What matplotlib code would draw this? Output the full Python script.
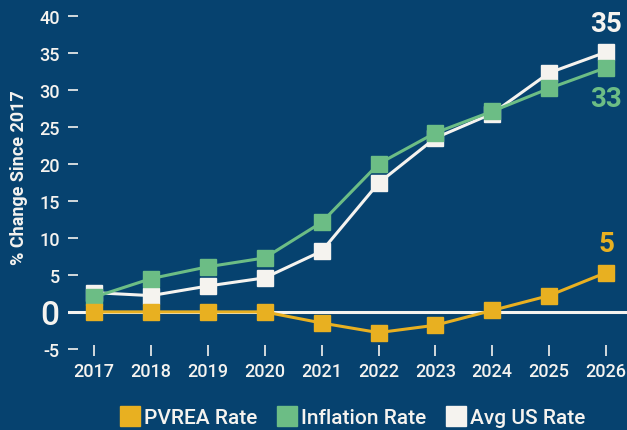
import numpy as np
import matplotlib.pyplot as plt
from matplotlib.lines import Line2D

plt.rcParams['font.family'] = ['Roboto', 'DejaVu Sans']

# dane
lata = [2017, 2018, 2019, 2020, 2021, 2022, 2023, 2024, 2025, 2026]
pvrea = [0.0, 0.0, 0.0, 0.0, -1.5, -2.8, -1.8, 0.2, 2.2, 5.3]
inflacja = [2.0, 4.5, 6.1, 7.3, 12.1, 20.0, 24.2, 27.1, 30.2, 33.0]
srednia_us = [2.6, 2.2, 3.5, 4.6, 8.2, 17.4, 23.5, 26.8, 32.3, 35.1]
y_ticks = [-5, 5, 10, 15, 20, 25, 30, 35, 40]

TLO = '#06426f'
ZOLTY = '#e8b021'
ZIELONY = '#6cbd85'
BIALY = '#f5f3ef'

fig = plt.figure(figsize=(6.27, 4.31), dpi=100, facecolor=TLO)
ax = fig.add_axes([0.1085, 0.171, 0.8915, 0.807])
ax.set_facecolor(TLO)

ax.axhline(0, color=BIALY, lw=2.2, zorder=1)

ms = 11.5
ax.plot(lata, srednia_us, color=BIALY, lw=2.2, marker='s', ms=ms, zorder=2)
ax.plot(lata, inflacja, color=ZIELONY, lw=2.2, marker='s', ms=ms, zorder=3)
ax.plot(lata, pvrea, color=ZOLTY, lw=2.2, marker='s', ms=ms, zorder=4)

# etykiety koncowe
ax.text(lata[-1], srednia_us[-1] + 2.1, f"{round(srednia_us[-1])}", color=BIALY,
        fontsize=20, fontweight='bold', ha='center', va='bottom')
ax.text(lata[-1], inflacja[-1] - 2.3, f"{round(inflacja[-1])}", color=ZIELONY,
        fontsize=20, fontweight='bold', ha='center', va='top')
ax.text(lata[-1], pvrea[-1] + 2.1, f"{round(pvrea[-1])}", color=ZOLTY,
        fontsize=20, fontweight='bold', ha='center', va='bottom')

ax.set_xlim(2016.54, 2026.37)
ax.set_ylim(-6, 41)
ax.set_xticks(lata)
ax.set_xticklabels([str(r) for r in lata])
ax.set_yticks(y_ticks + [0])
ax.set_yticklabels([str(v) for v in y_ticks] + ['0'])
ax.tick_params(axis='y', colors=BIALY, labelcolor=BIALY, labelsize=13,
               direction='in', length=7, width=1.2, pad=6)
ax.tick_params(axis='x', colors=BIALY, labelcolor=BIALY, labelsize=13,
               direction='in', length=8, width=1.2, pad=4)
for lbl in ax.get_xticklabels() + ax.get_yticklabels():
    lbl.set_fontweight('medium')
for lbl in ax.get_yticklabels():
    if lbl.get_text() == '0':
        lbl.set_fontsize(24)
for s in ax.spines.values():
    s.set_visible(False)

fig.text(0.03, 0.587, "% Change Since 2017", color=BIALY, fontsize=13,
         fontweight='bold', rotation=90, ha='center', va='center')

uchwyty = [Line2D([], [], ls='', marker='s', ms=14, color=c)
           for c in (ZOLTY, ZIELONY, BIALY)]
leg = fig.legend(uchwyty, ["PVREA Rate", "Inflation Rate", "Avg US Rate"],
                 loc='center', bbox_to_anchor=(0.562, 0.028), ncol=3,
                 frameon=False, fontsize=15, handletextpad=0.2,
                 columnspacing=0.9, handlelength=1.0,
                 prop={'size': 15, 'weight': 'medium'})
for t in leg.get_texts():
    t.set_color(BIALY)

fig.savefig('out.png', dpi=100, facecolor=TLO)
